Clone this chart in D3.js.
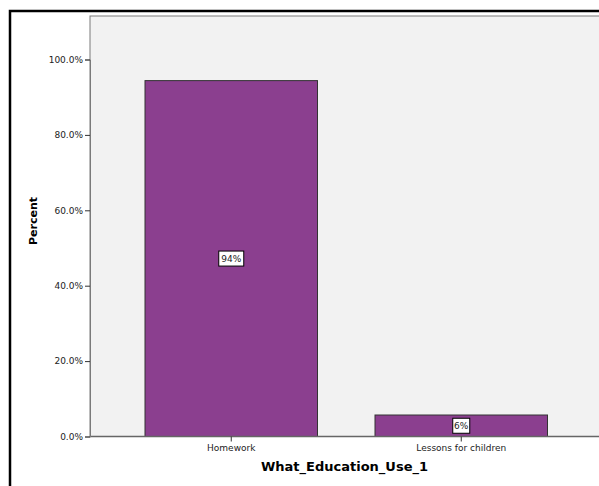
<!DOCTYPE html>
<html><head><meta charset="utf-8">
<script src="https://cdn.jsdelivr.net/npm/d3@7"></script>
<style>body{margin:0;background:#fff}svg{display:block}</style>
</head><body>
<script>
const categories = ["Homework", "Lessons for children"];
const values = [94.4, 5.7];
const labels = ["94%", "6%"];
const yTicks = [0, 20, 40, 60, 80, 100];

(function () {
const W = 599, H = 486;
const svg = d3.select("body").append("svg").attr("width", W).attr("height", H);
const font = "'DejaVu Sans', Verdana, sans-serif";

// outer frame
svg.append("rect").attr("x", 10).attr("y", 11).attr("width", 600).attr("height", 490)
  .attr("fill", "#fff").attr("stroke", "#000").attr("stroke-width", 2.5);

const pLeft = 90, pRight = 599, pTop = 16, base = 436.5;
const y = d3.scaleLinear().domain([0, 100]).range([base, 59.5]);
const x = d3.scaleBand().domain(categories).range([87.5, 605]).paddingInner(0.25).paddingOuter(0.25);

// plot area
svg.append("rect").attr("x", pLeft).attr("y", pTop).attr("width", pRight - pLeft + 5).attr("height", base - pTop)
  .attr("fill", "#f2f2f2").attr("stroke", "#7a7a7a").attr("stroke-width", 1);

// bars
svg.selectAll(".bar").data(values).enter().append("rect")
  .attr("x", (d, i) => x(categories[i]))
  .attr("y", d => y(d))
  .attr("width", x.bandwidth())
  .attr("height", d => y(0) - y(d))
  .attr("fill", "#8b3f8f").attr("stroke", "#333").attr("stroke-width", 1);

// baseline
svg.append("line").attr("x1", pLeft).attr("x2", pRight).attr("y1", base).attr("y2", base)
  .attr("stroke", "#666").attr("stroke-width", 1.5);

// y axis
const yAxis = d3.axisLeft(y).tickValues(yTicks).tickSize(5).tickPadding(2)
  .tickFormat(d => d3.format(".1f")(d) + "%");
const gy = svg.append("g").attr("transform", `translate(${pLeft},0)`).call(yAxis);
gy.select(".domain").attr("stroke", "#7a7a7a");
gy.selectAll(".tick line").attr("stroke", "#333");
gy.selectAll(".tick text").attr("font-family", font).attr("font-size", 9).attr("fill", "#222");

// x axis
const xAxis = d3.axisBottom(x).tickSize(5).tickPadding(3).tickSizeOuter(0);
const gx = svg.append("g").attr("transform", `translate(0,${base})`).call(xAxis);
gx.select(".domain").remove();
gx.selectAll(".tick line").attr("stroke", "#333");
gx.selectAll(".tick text").attr("font-family", font).attr("font-size", 9).attr("fill", "#222");

// data labels
const lab = svg.selectAll(".lab").data(values).enter().append("g")
  .attr("transform", (d, i) => `translate(${x(categories[i]) + x.bandwidth() / 2},${(y(d) + y(0)) / 2})`);
lab.append("rect").attr("y", -7.5).attr("height", 15)
  .attr("fill", "#fff").attr("stroke", "#000").attr("stroke-width", 1)
  .attr("width", (d, i) => labels[i].length > 2 ? 25 : 17)
  .attr("x", (d, i) => labels[i].length > 2 ? -12.5 : -8.5);
lab.append("text").text((d, i) => labels[i]).attr("text-anchor", "middle").attr("dy", "0.35em")
  .attr("font-family", font).attr("font-size", 9).attr("fill", "#222");

// axis titles
svg.append("text").attr("x", (pLeft + pRight) / 2).attr("y", 471).attr("text-anchor", "middle")
  .attr("font-family", font).attr("font-weight", "bold").attr("font-size", 13).text("What_Education_Use_1");
svg.append("text").attr("transform", `translate(37,245) rotate(-90)`)
  .attr("text-anchor", "start")
  .attr("font-family", font).attr("font-weight", "bold").attr("font-size", 11).text("Percent");
})();
</script>
</body></html>
